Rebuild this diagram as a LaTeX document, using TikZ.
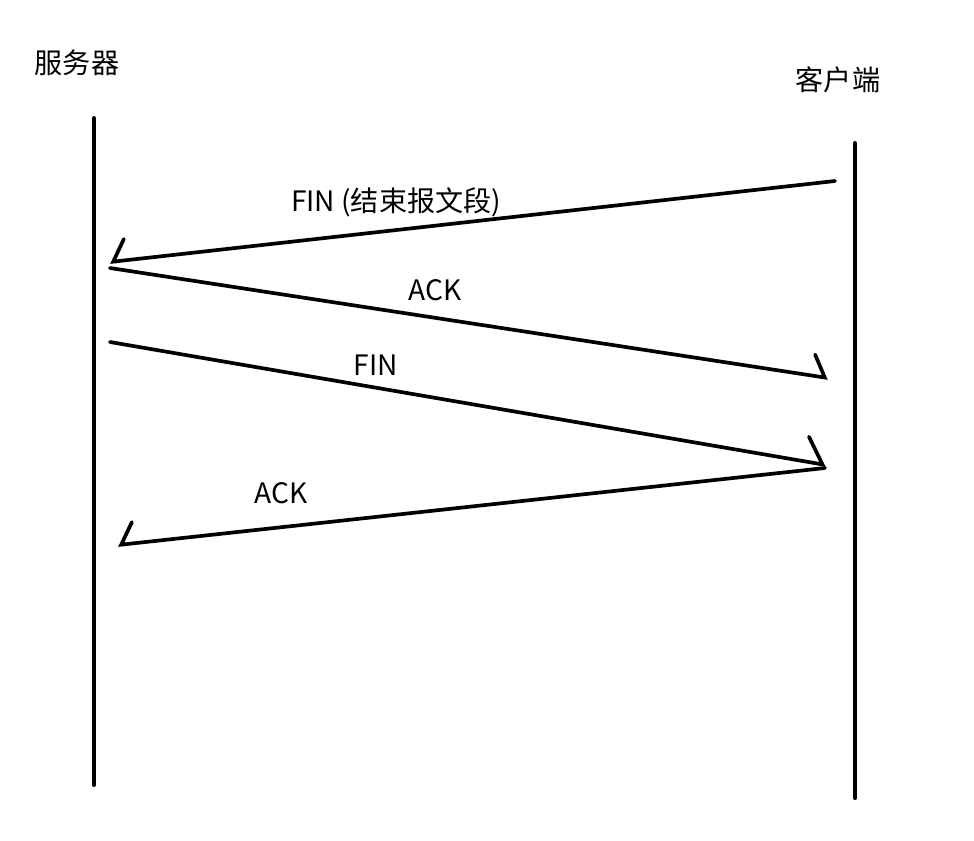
\documentclass[tikz,border=0pt]{standalone}
\usepackage{fontspec}
\setmainfont{Noto Sans CJK SC}
\usetikzlibrary{arrows.meta}
\usetikzlibrary{positioning}

\begin{document}
\begin{tikzpicture}[x=0.02cm, y=-0.02cm]
 \tikzstyle{life}=[line width=2.3pt, line cap=round]
 \tikzstyle{msg}=[line width=2.1pt, line cap=round]
 \tikzstyle{tipup}=[-{Straight Barb[harpoon, swap, length=2.6mm, width=8.5mm, line cap=round]}]
 \tikzstyle{tipdn}=[-{Straight Barb[harpoon, length=2.6mm, width=8.5mm, line cap=round]}]
 \tikzstyle{tiplong}=[-{Straight Barb[harpoon, length=3.6mm, width=10mm, line cap=round]}]
 \tikzstyle{lbl}=[inner sep=0pt, font=\fontsize{16}{19}\selectfont]
 \useasboundingbox (0,0) rectangle (974,840);

 % lifelines
 \begin{scope}
  \coordinate (stop) at (94,118);
  \coordinate (sbot) at (94,785);
  \coordinate (ctop) at (855,143);
  \coordinate (cbot) at (855,798);
  \draw[life] (stop) -- (sbot);
  \draw[life] (ctop) -- (cbot);
  \node[lbl] (server) at (77,63) {服务器};
  \node[lbl] (client) at (838,80) {客户端};
 \end{scope}

 % messages
 \begin{scope}
  \coordinate (c1) at (835,181);
  \coordinate (s1) at (110,262);
  \coordinate (s2) at (110,268);
  \coordinate (c2) at (828,378);
  \coordinate (s3) at (110,342);
  \coordinate (c3) at (826,465);
  \coordinate (c4) at (825,468);
  \coordinate (s4) at (118,545);
  \draw[msg, tipup] (c1) -- (s1);
  \draw[msg, tipdn] (s2) -- (c2);
  \draw[msg, tiplong] (s3) -- (c3);
  \draw[msg, tipup] (c4) -- (s4);
  \node[lbl] (fin1) at (396,202) {FIN (结束报文段)};
  \node[lbl] (ack1) at (435,290) {ACK};
  \node[lbl] (fin2) at (376,365) {FIN};
  \node[lbl] (ack2) at (281,493) {ACK};
 \end{scope}

\end{tikzpicture}
\end{document}
